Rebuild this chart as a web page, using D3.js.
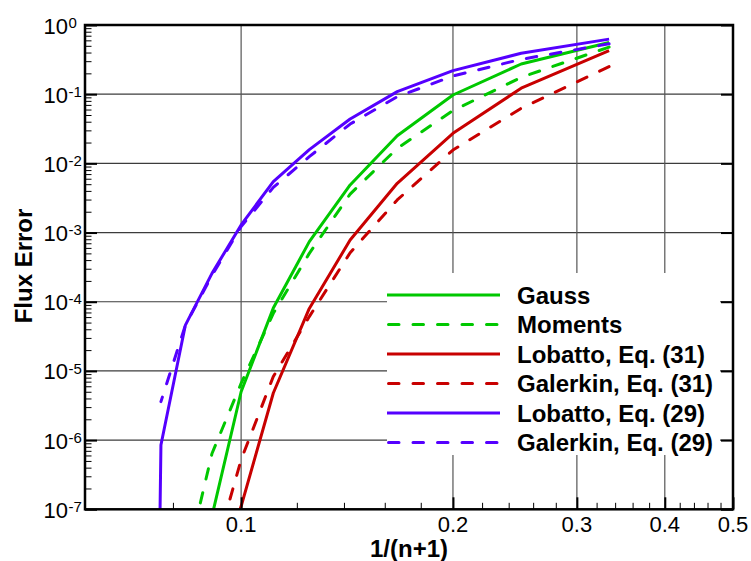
<!DOCTYPE html>
<html>
<head>
<meta charset="utf-8">
<script src="https://cdn.jsdelivr.net/npm/d3@7"></script>
<style>
body { margin: 0; background: #fff; }
svg { font-family: "Liberation Sans", Arial, Helvetica, sans-serif; }
</style>
</head>
<body>
<svg id="chart" width="751" height="561"></svg>
<script>
// polynomial order n, plotted as 1/(n+1)
const nValues = [2, 3, 4, 5, 6, 7, 8, 9, 10, 11, 12, 13];

// flux error (null = no point)
const gauss      = [0.56, 0.273, 0.0973, 0.0251, 0.00487, 7.4e-4, 8.1e-5, 5.0e-6, 8e-8, null, null, null];
const moments    = [0.48, 0.175, 0.058, 0.0165, 0.0036, 5.0e-4, 6.8e-5, 6.6e-6, 6.4e-7, 1.5e-8, null, null];
const lobatto31  = [0.425, 0.122, 0.0272, 0.00515, 7.8e-4, 8.0e-5, 4.8e-6, 1.1e-7, 1e-8, null, null, null];
const galerkin31 = [0.25, 0.0625, 0.0156, 0.00296, 5.1e-4, 6.1e-5, 8.3e-6, 5.2e-7, 1.7e-8, null, null, null];
const lobatto29  = [0.625, 0.39, 0.219, 0.109, 0.0438, 0.0158, 0.00544, 0.00129, 2.57e-4, 4.6e-5, 8.5e-7, 1e-30];
const galerkin29 = [0.535, 0.319, 0.183, 0.092, 0.037, 0.0125, 0.0045, 0.00122, 2.4e-4, 4.6e-5, 3.6e-6, null];

const seriesNames = ['Gauss', 'Moments', 'Lobatto, Eq. (31)', 'Galerkin, Eq. (31)', 'Lobatto, Eq. (29)', 'Galerkin, Eq. (29)'];

const xTickValues = [0.1, 0.2, 0.3, 0.4, 0.5];
const xGridValues = [0.1, 0.2, 0.3, 0.4];
const xMinorTicks = [0.08, 0.12, 0.14, 0.16, 0.18, 0.22, 0.24, 0.26, 0.28,
                     0.32, 0.34, 0.36, 0.38, 0.42, 0.44, 0.46, 0.48];
const yExponents = [0, -1, -2, -3, -4, -5, -6, -7];
const yMinorMultipliers = [2, 3, 4, 5, 6, 7, 8, 9];

const green = '#00c800', red = '#c80000', purple = '#5500ff';
const series = [
    { name: seriesNames[0], values: gauss, color: green, dashed: false },
    { name: seriesNames[1], values: moments, color: green, dashed: true },
    { name: seriesNames[2], values: lobatto31, color: red, dashed: false },
    { name: seriesNames[3], values: galerkin31, color: red, dashed: true },
    { name: seriesNames[4], values: lobatto29, color: purple, dashed: false },
    { name: seriesNames[5], values: galerkin29, color: purple, dashed: true }
];

const svg = d3.select('#chart');
const plotLeft = 85, plotRight = 733, plotTop = 25, plotBottom = 509.3;

const x = d3.scaleLog().domain([0.06, 0.5]).range([plotLeft, plotRight]);
const y = d3.scaleLog().domain([1e-7, 1]).range([plotBottom, plotTop]);

const decades = yExponents.map(e => Math.pow(10, e));
const yMinor = [];
decades.slice(1).forEach(d => yMinorMultipliers.forEach(m => yMinor.push(d * m)));

// grid
svg.append('g').selectAll('line')
    .data(decades.filter(d => d < 1 && d > 1e-7))
    .join('line')
    .attr('x1', plotLeft).attr('x2', plotRight)
    .attr('y1', d => y(d)).attr('y2', d => y(d))
    .style('stroke', '#3c3c3c').style('stroke-width', 1.2);

svg.append('g').selectAll('line')
    .data(xGridValues)
    .join('line')
    .attr('x1', d => x(d)).attr('x2', d => x(d))
    .attr('y1', plotTop).attr('y2', plotBottom)
    .style('stroke', '#555').style('stroke-width', 1.2);

// curves
svg.append('clipPath').attr('id', 'plot-clip')
    .append('rect')
    .attr('x', plotLeft).attr('y', plotTop)
    .attr('width', plotRight - plotLeft).attr('height', plotBottom - plotTop);

const line = d3.line()
    .defined(d => d.v != null)
    .x(d => x(d.x))
    .y(d => y(d.v));

series.forEach(s => {
    const pts = nValues.map((n, i) => ({ x: 1 / (n + 1), v: s.values[i] }));
    svg.append('path')
        .datum(pts)
        .attr('clip-path', 'url(#plot-clip)')
        .attr('d', line)
        .attr('fill', 'none')
        .style('stroke', s.color)
        .style('stroke-width', 3)
        .style('stroke-linejoin', 'round')
        .style('stroke-linecap', s.dashed ? 'round' : 'butt')
        .style('stroke-dasharray', s.dashed ? '10.5,14' : null);
});

// legend
svg.append('rect')
    .attr('x', 387).attr('y', 273)
    .attr('width', 333).attr('height', 182)
    .attr('fill', '#fff');

series.forEach((s, i) => {
    const ly = 295 + i * 29.5;
    svg.append('line')
        .attr('x1', s.dashed ? 388.5 : 387).attr('x2', 500)
        .attr('y1', ly).attr('y2', ly)
        .style('stroke', s.color)
        .style('stroke-width', 3)
        .style('stroke-linecap', s.dashed ? 'round' : 'butt')
        .style('stroke-dasharray', s.dashed ? '10.5,14' : null);
    svg.append('text')
        .attr('x', 517).attr('y', ly + 8.5)
        .style('font-size', '24px').style('font-weight', 'bold')
        .text(s.name);
});

// ticks (inward)
const tickStyle = (g, w) => {
    g.select('.domain').remove();
    g.selectAll('line').style('stroke', '#000').style('stroke-width', w);
    g.selectAll('text').remove();
};
svg.append('g').attr('transform', `translate(${plotLeft},0)`)
    .call(d3.axisLeft(y).tickValues(yMinor).tickSizeInner(-6.5).tickSizeOuter(0))
    .call(g => tickStyle(g, 1));
svg.append('g').attr('transform', `translate(${plotLeft},0)`)
    .call(d3.axisLeft(y).tickValues(decades).tickSizeInner(-12).tickSizeOuter(0))
    .call(g => tickStyle(g, 2));
svg.append('g').attr('transform', `translate(${plotRight},0)`)
    .call(d3.axisRight(y).tickValues(decades).tickSizeInner(-12).tickSizeOuter(0))
    .call(g => tickStyle(g, 2));
svg.append('g').attr('transform', `translate(0,${plotBottom})`)
    .call(d3.axisBottom(x).tickValues(xMinorTicks).tickSizeInner(-6.5).tickSizeOuter(0))
    .call(g => tickStyle(g, 1));
svg.append('g').attr('transform', `translate(0,${plotBottom})`)
    .call(d3.axisBottom(x).tickValues(xTickValues).tickSizeInner(-12).tickSizeOuter(0))
    .call(g => tickStyle(g, 2));

// border
svg.append('rect')
    .attr('x', plotLeft).attr('y', plotTop)
    .attr('width', plotRight - plotLeft).attr('height', plotBottom - plotTop)
    .attr('fill', 'none')
    .style('stroke', '#000').style('stroke-width', 2.5);

// tick labels
yExponents.forEach(e => {
    const ty = y(Math.pow(10, e));
    svg.append('text')
        .attr('x', 68).attr('y', ty + 8.5)
        .style('text-anchor', 'end').style('font-size', '22px')
        .text('10');
    svg.append('text')
        .attr('x', 68.5).attr('y', ty + 2.7)
        .style('text-anchor', 'start').style('font-size', '15px')
        .text(String(e));
});

xTickValues.forEach(v => {
    svg.append('text')
        .attr('x', x(v)).attr('y', 531.5)
        .style('text-anchor', 'middle').style('font-size', '22px')
        .text(d3.format('.1f')(v));
});

// axis titles
svg.append('text')
    .attr('x', 409).attr('y', 557)
    .style('text-anchor', 'middle').style('font-size', '24px').style('font-weight', 'bold')
    .text('1/(n+1)');

svg.append('text')
    .attr('transform', 'translate(32,266) rotate(-90)')
    .style('text-anchor', 'middle').style('font-size', '24px').style('font-weight', 'bold')
    .text('Flux Error');
</script>
</body>
</html>
